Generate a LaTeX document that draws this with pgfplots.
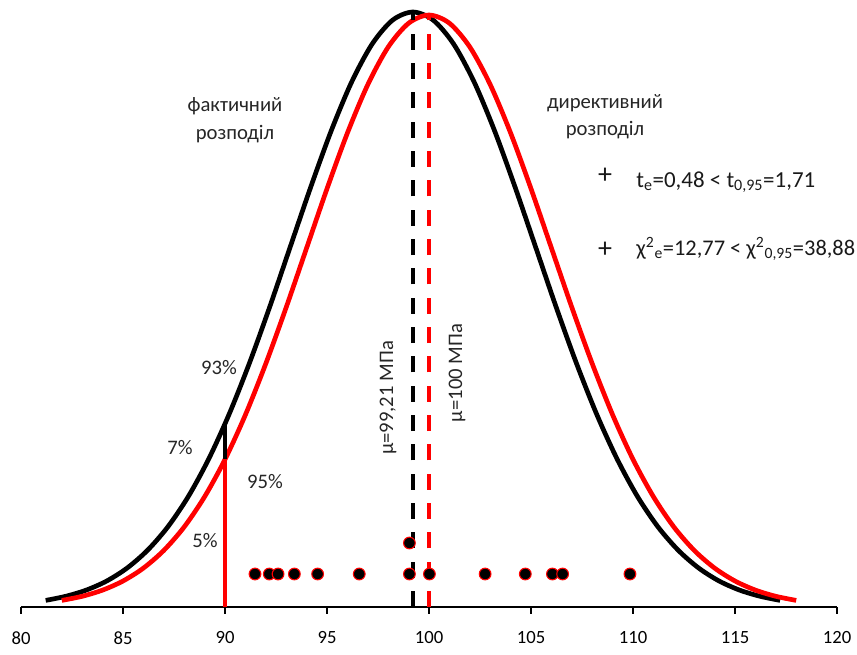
\documentclass[border=0pt]{standalone}
\usepackage{pgfplots}
\pgfplotsset{compat=1.18}
\usepackage{fontspec}
\setmainfont{Carlito}

% black: fitted (actual) distribution, mean 99.21
\pgfplotstableread{
x y
81.21 6.6
82.21 10.8
83.21 17.0
84.21 26.1
85.21 39.1
86.21 56.9
87.21 80.5
88.21 110.8
89.21 148.4
90.21 193.2
91.21 244.6
92.21 301.2
93.21 360.9
94.21 420.4
95.21 476.4
96.21 525.1
97.21 562.9
98.21 586.8
99.21 595.0
100.21 586.8
101.21 562.9
102.21 525.1
103.21 476.4
104.21 420.4
105.21 360.9
106.21 301.2
107.21 244.6
108.21 193.2
109.21 148.4
110.21 110.8
111.21 80.5
112.21 56.9
113.21 39.1
114.21 26.1
115.21 17.0
116.21 10.8
117.21 6.6
}\factual

% red: target distribution, mean 100
\pgfplotstableread{
x y
82 6.6
83 10.7
84 16.9
85 26.0
86 38.9
87 56.6
88 80.1
89 110.3
90 147.6
91 192.2
92 243.4
93 299.7
94 359.0
95 418.3
96 474.0
97 522.4
98 560.0
99 583.8
100 592.0
101 583.8
102 560.0
103 522.4
104 474.0
105 418.3
106 359.0
107 299.7
108 243.4
109 192.2
110 147.6
111 110.3
112 80.1
113 56.6
114 38.9
115 26.0
116 16.9
117 10.7
118 6.6
}\target

% sample values
\pgfplotstableread{
x y
91.47 33
92.17 33
92.60 33
93.40 33
94.54 33
96.58 33
99.04 33
100.02 33
102.75 33
104.72 33
106.05 33
106.55 33
109.85 33
99.04 64
}\sample

\tikzset{
  lbl/.style={font=\fontsize{15.5}{18}\selectfont, text=black!85, inner sep=0pt},
  big/.style={font=\fontsize{17.2}{20}\selectfont, text=black!90, inner sep=0pt},
}

\begin{document}
\begin{tikzpicture}
\begin{axis}[
    x=15.3pt, y=0.75pt,
    xmin=80, xmax=120, ymin=0, ymax=607,
    axis x line*=bottom, axis y line=none,
    x axis line style={line width=0.9pt},
    xtick={80,85,...,120},
    tick align=outside,
    major tick length=5pt,
    tick style={black, line width=0.9pt},
    xticklabel style={font=\fontsize{14}{16}\selectfont, yshift=-10pt},
    /pgf/number format/assume math mode=true,
    clip=false,
]
\addplot[black, line width=3.5pt, smooth] table {\factual};
\addplot[red, line width=3.5pt, smooth] table {\target};

\addplot[black, line width=3pt, dash pattern=on 12pt off 10pt] coordinates {(99.21,0) (99.21,595)};
\addplot[red, line width=3pt, dash pattern=on 12pt off 10pt] coordinates {(100,0) (100,592)};

\addplot[red, line width=3pt] coordinates {(90,0) (90,148)};
\addplot[black, line width=3pt] coordinates {(90,148) (90,183)};

\addplot[only marks, mark=*, mark size=4.4pt, mark options={fill=black, draw=red, line width=0.8pt}] table {\sample};

\node[lbl] at (axis cs:90.49,501) {фактичний};
\node[lbl] at (axis cs:90.49,473) {розподіл};
\node[lbl] at (axis cs:108.63,504) {директивний};
\node[lbl] at (axis cs:108.63,477) {розподіл};
\node[big, font=\fontsize{21}{24}\selectfont] at (axis cs:108.63,431) {+};
\node[big, font=\fontsize{21}{24}\selectfont] at (axis cs:108.63,357) {+};
\node[big, anchor=west] at (axis cs:110.15,425) {t\textsubscript{e}=0,48 < t\textsubscript{0,95}=1,71};
\node[big, anchor=west, font=\fontsize{16.8}{20}\selectfont] at (axis cs:110.15,358) {χ\textsuperscript{2}\textsubscript{e}=12,77 < χ\textsuperscript{2}\textsubscript{0,95}=38,88};

\node[lbl] at (axis cs:89.71,239) {93\%};
\node[lbl] at (axis cs:87.79,159) {7\%};
\node[lbl] at (axis cs:91.96,125) {95\%};
\node[lbl] at (axis cs:89.02,66) {5\%};

\node[lbl, rotate=90] at (axis cs:97.99,209) {μ=99,21 МПа};
\node[lbl, rotate=90] at (axis cs:101.37,234) {μ=100 МПа};

\coordinate (bl) at (axis cs:78.97,-47);
\coordinate (tr) at (axis cs:120.98,607);
\end{axis}
\pgfresetboundingbox
\path[use as bounding box] (bl) rectangle (tr);
\end{tikzpicture}
\end{document}
